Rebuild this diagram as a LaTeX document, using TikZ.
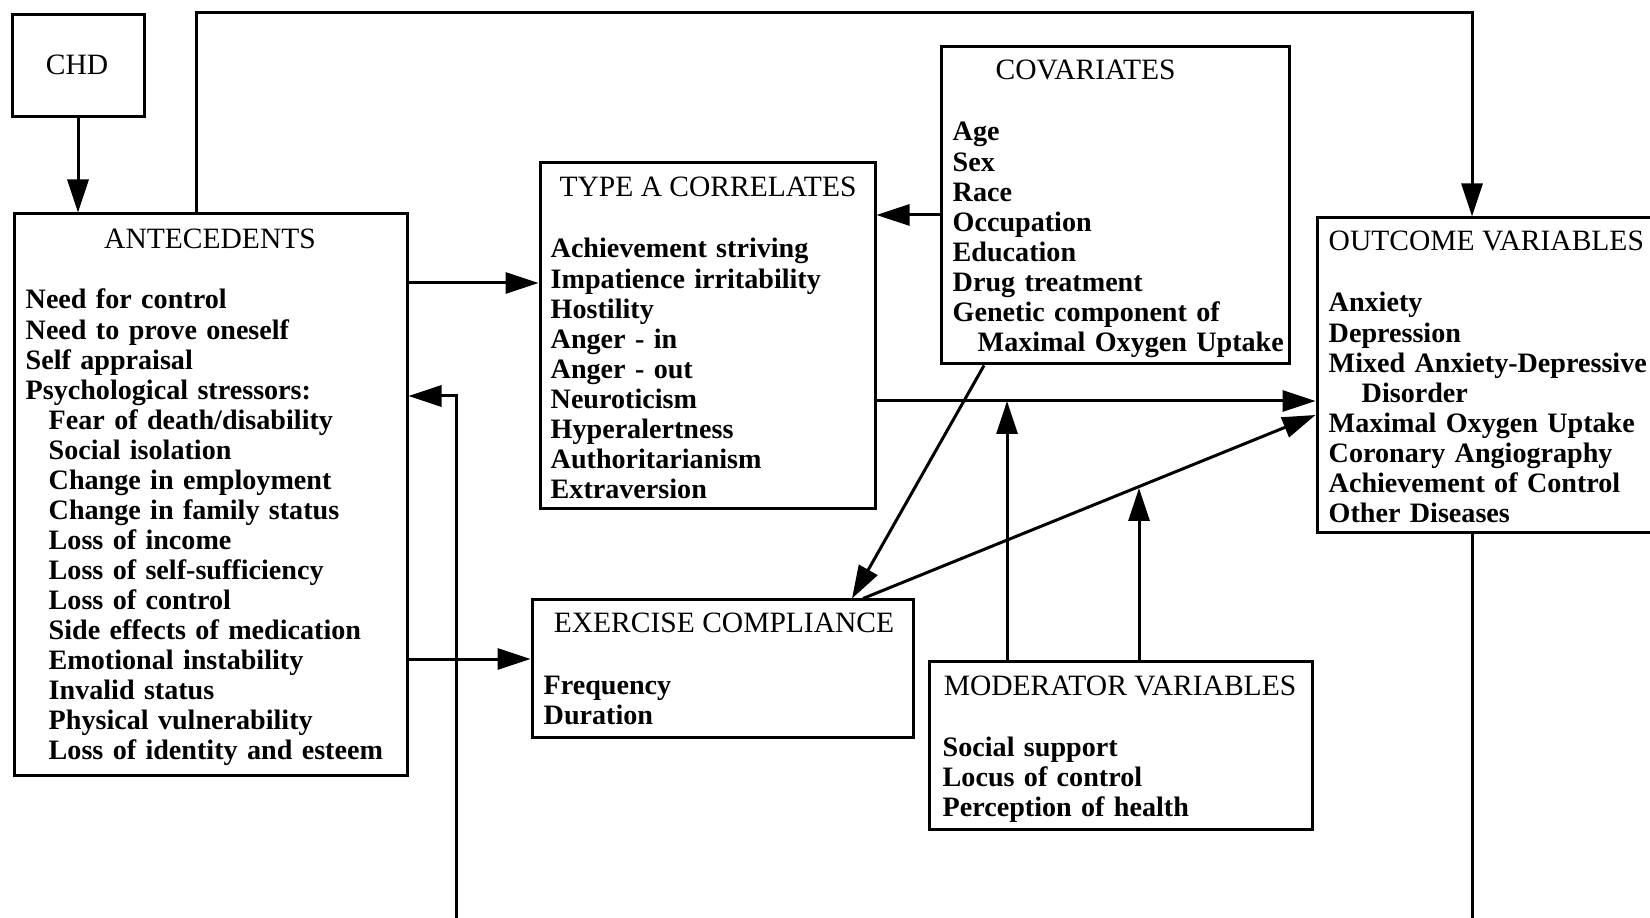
\documentclass[tikz,border=0pt]{standalone}
\usepackage{fontspec}
\setmainfont{Liberation Serif}
\usetikzlibrary{arrows.meta,calc,fit}

\newcommand{\indt}[1]{\hspace*{#1}}

\begin{document}
\begin{tikzpicture}[x=0.1mm,y=-0.1mm,
    box/.style={draw,line width=0.3mm,inner sep=0pt},
    ttl/.style={inner sep=0pt,font=\fontsize{8.4}{8.55}\selectfont},
    lst/.style={inner sep=0pt,anchor=base west,align=left,text width=45mm,
        font=\fontsize{8}{8.55}\selectfont\bfseries},
    arr/.style={line width=0.3mm,-{Triangle[length=3.3mm,width=2.1mm]}}]

\useasboundingbox (0,0) rectangle (1650,918);
\clip (0,0) rectangle (1650,918);

% Boxes
\node[box,fit={(12,15) (144,117)}] (chd) {};
\node[box,fit={(14,214) (407,775)}] (ante) {};
\node[box,fit={(540,163) (875,509)}] (typa) {};
\node[box,fit={(941,47) (1289,364)}] (cova) {};
\node[box,fit={(1317,218) (1700,533)}] (outc) {};
\node[box,fit={(532,600) (913,737)}] (exer) {};
\node[box,fit={(929,661) (1312,829)}] (modr) {};

% CHD
\node[ttl,anchor=base] (chdt) at (77,75) {CHD};

% Antecedents
\node[ttl,anchor=base] (antet) at (210,249) {ANTECEDENTS};
\node[lst] (antel) at (25,309) {Need for control\\
Need to prove oneself\\
Self appraisal\\
Psychological stressors:\\
\indt{2.3mm}Fear of death/disability\\
\indt{2.3mm}Social isolation\\
\indt{2.3mm}Change in employment\\
\indt{2.3mm}Change in family status\\
\indt{2.3mm}Loss of income\\
\indt{2.3mm}Loss of self-sufficiency\\
\indt{2.3mm}Loss of control\\
\indt{2.3mm}Side effects of medication\\
\indt{2.3mm}Emotional instability\\
\indt{2.3mm}Invalid status\\
\indt{2.3mm}Physical vulnerability\\
\indt{2.3mm}Loss of identity and esteem};

% Type A correlates
\node[ttl,anchor=base] (typat) at (708,197) {TYPE A CORRELATES};
\node[lst] (typal) at (550,258) {Achievement striving\\
Impatience irritability\\
Hostility\\
Anger - in\\
Anger - out\\
Neuroticism\\
Hyperalertness\\
Authoritarianism\\
Extraversion};

% Covariates
\node[ttl,anchor=base west] (covat) at (995,80) {COVARIATES};
\node[lst] (caval) at (952,141) {Age\\
Sex\\
Race\\
Occupation\\
Education\\
Drug treatment\\
Genetic component of\\
\indt{2.5mm}Maximal Oxygen Uptake};

% Outcome variables
\node[ttl,anchor=base west] (outct) at (1328,251) {OUTCOME VARIABLES};
\node[lst] (outcl) at (1328,312) {Anxiety\\
Depression\\
Mixed Anxiety-Depressive\\
\indt{3.3mm}Disorder\\
Maximal Oxygen Uptake\\
Coronary Angiography\\
Achievement of Control\\
Other Diseases};

% Exercise compliance
\node[ttl,anchor=base] (exert) at (724,632) {EXERCISE COMPLIANCE};
\node[lst] (exerl) at (543,694) {Frequency\\
Duration};

% Moderator variables
\node[ttl,anchor=base] (modrt) at (1120,695) {MODERATOR VARIABLES};
\node[lst] (modrl) at (942,756) {Social support\\
Locus of control\\
Perception of health};

% Helper points
\coordinate (topl) at (196,13);
\coordinate (topr) at (1472,13);
\coordinate (botr) at (1472,980);
\coordinate (botl) at (456,980);
\coordinate (backup) at (456,396);
\coordinate (mod1) at (1007,401);
\coordinate (mod2) at (1139,488);

% Arrows
\draw[arr] (chd.south) -- (ante.north -| chd.south);
\draw[arr] (ante.north -| topl) -- (topl) -- (topr) -- (outc.north -| topr);
\draw[arr] (ante.east |- 0,283) -- (typa.west |- 0,283);
\draw[arr] (ante.east |- 0,659) -- (exer.west |- 0,659);
\draw[arr] (cova.west |- 0,215) -- (typa.east |- 0,215);
\draw[arr] (typa.east |- 0,401) -- (outc.west |- 0,401);
\draw[arr] (cova.south -| 984,0) -- (exer.north -| 852,0);
\draw[arr] (exer.north -| 863,0) -- (outc.west |- 0,415);
\draw[arr] (modr.north -| mod1) -- (mod1);
\draw[arr] (modr.north -| mod2) -- (mod2);

% Feedback loop
\draw[arr] (outc.south -| botr) -- (botr) -- (botl) -- (backup) -- (ante.east |- backup);

\end{tikzpicture}
\end{document}
